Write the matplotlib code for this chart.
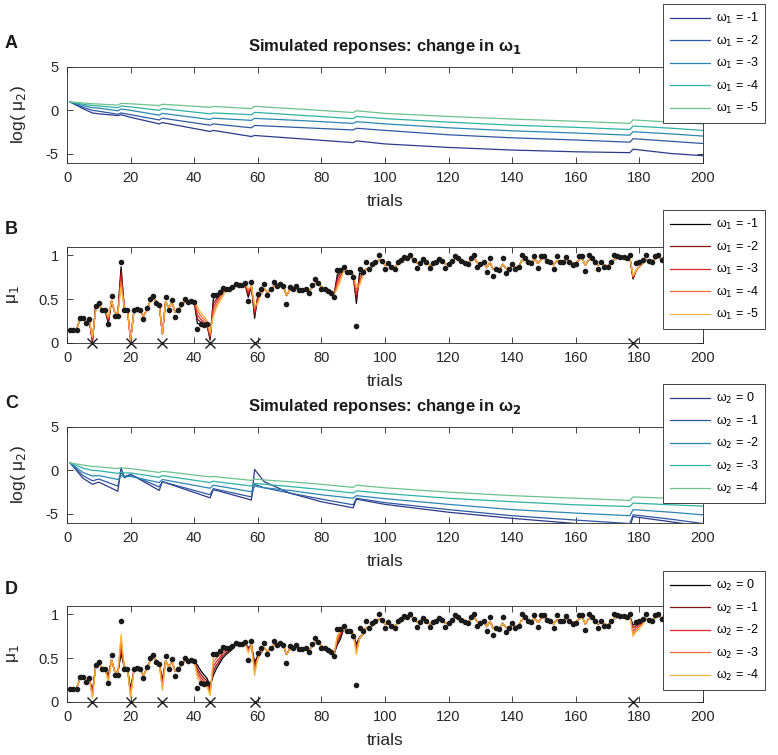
import numpy as np
import matplotlib.pyplot as plt
from matplotlib.ticker import FormatStrFormatter

plt.rcParams['font.family'] = ['Liberation Sans', 'DejaVu Sans']
plt.rcParams['mathtext.fontset'] = 'dejavusans'

# -----------------------------
# Data
# -----------------------------
trials = np.arange(1, 201)
nan = np.nan

# observed responses (black dots), nan = missed trial (x marker)
responses = [
    0.15, 0.15, 0.15, 0.28, 0.28, 0.23, 0.27, nan, 0.42, 0.45,
    0.37, 0.37, 0.21, 0.54, 0.31, 0.31, 0.93, 0.37, 0.37, nan,
    0.37, 0.39, 0.37, 0.27, 0.40, 0.50, 0.53, 0.46, 0.43, nan,
    0.52, 0.37, 0.49, 0.29, 0.38, 0.44, 0.50, 0.47, 0.48, 0.47,
    0.16, 0.21, 0.20, 0.21, nan, 0.55, 0.55, 0.58, 0.63, 0.61,
    0.61, 0.64, 0.67, 0.66, 0.66, 0.68, 0.48, 0.70, nan, 0.56,
    0.61, 0.67, 0.55, 0.62, 0.70, 0.65, 0.67, 0.65, 0.44, 0.64,
    0.61, 0.65, 0.60, 0.60, 0.62, 0.57, 0.66, 0.73, 0.68, 0.61,
    0.61, 0.59, 0.57, 0.52, 0.83, 0.83, 0.87, 0.81, 0.81, 0.75,
    0.19, 0.85, 0.81, 0.92, 0.84, 0.90, 0.93, 1.00, 0.94, 0.85,
    0.91, 0.87, 0.85, 0.93, 0.95, 0.98, 0.97, 1.00, 0.95, 0.86,
    0.91, 0.96, 0.92, 0.86, 0.91, 0.92, 0.96, 0.94, 0.86, 0.90,
    0.94, 0.99, 0.97, 0.94, 0.91, 0.90, 0.97, 1.00, 0.87, 0.90,
    0.92, 0.81, 0.97, 0.76, 0.84, 0.83, 0.97, 0.80, 0.84, 0.90,
    0.84, 0.87, 1.00, 0.97, 0.93, 0.91, 0.99, 0.86, 0.99, 0.99,
    0.94, 0.92, 0.85, 0.99, 0.93, 0.92, 0.98, 0.93, 0.89, 0.90,
    0.99, 0.99, 0.82, 1.00, 0.97, 0.92, 0.84, 0.92, 0.87, 0.87,
    0.92, 1.00, 0.99, 0.98, 0.98, 0.97, 1.00, nan, 0.91, 0.92,
    0.95, 1.00, 0.94, 0.93, 0.99, 1.00, 0.95, 0.98, 0.93, 0.99,
    0.96, 0.92, 1.00, 0.97, 0.94, 0.99, 0.96, 0.93, 0.98, 0.95,
]
missed = [8, 20, 30, 45, 59, 178]

# common mu1 trajectory (middle line), per trial
mu1_base = [
    0.15, 0.15, 0.15, 0.26, 0.27, 0.25, 0.26, 0.03, 0.40, 0.44,
    0.38, 0.37, 0.26, 0.48, 0.35, 0.33, 0.75, 0.40, 0.38, 0.03,
    0.35, 0.38, 0.37, 0.30, 0.37, 0.46, 0.51, 0.48, 0.44, 0.10,
    0.47, 0.40, 0.46, 0.35, 0.37, 0.42, 0.47, 0.47, 0.47, 0.47,
    0.33, 0.27, 0.24, 0.22, 0.07, 0.40, 0.47, 0.53, 0.58, 0.60,
    0.61, 0.63, 0.65, 0.66, 0.66, 0.67, 0.57, 0.65, 0.35, 0.50,
    0.56, 0.62, 0.58, 0.60, 0.65, 0.65, 0.66, 0.65, 0.54, 0.60,
    0.61, 0.63, 0.61, 0.61, 0.62, 0.59, 0.63, 0.68, 0.68, 0.64,
    0.62, 0.61, 0.59, 0.55, 0.70, 0.77, 0.83, 0.82, 0.81, 0.78,
    0.55, 0.72, 0.77, 0.85, 0.84, 0.87, 0.90, 0.95, 0.94, 0.89,
    0.90, 0.88, 0.87, 0.90, 0.92, 0.95, 0.96, 0.98, 0.96, 0.91,
    0.91, 0.94, 0.93, 0.89, 0.90, 0.91, 0.94, 0.94, 0.90, 0.90,
    0.92, 0.96, 0.96, 0.95, 0.93, 0.91, 0.94, 0.97, 0.92, 0.91,
    0.92, 0.86, 0.92, 0.84, 0.84, 0.83, 0.90, 0.85, 0.85, 0.88,
    0.86, 0.87, 0.94, 0.95, 0.94, 0.92, 0.96, 0.91, 0.95, 0.97,
    0.95, 0.93, 0.89, 0.94, 0.93, 0.93, 0.95, 0.94, 0.91, 0.91,
    0.95, 0.97, 0.89, 0.95, 0.96, 0.94, 0.89, 0.91, 0.89, 0.88,
    0.90, 0.95, 0.97, 0.97, 0.97, 0.97, 0.98, 0.75, 0.83, 0.87,
    0.91, 0.95, 0.94, 0.94, 0.96, 0.98, 0.96, 0.97, 0.95, 0.97,
    0.96, 0.94, 0.97, 0.97, 0.95, 0.97, 0.96, 0.94, 0.96, 0.95,
]

omega1_vals = [-1, -2, -3, -4, -5]
omega2_vals = [0, -1, -2, -3, -4]

# panel A: log(mu2), change in omega1 (keypoints)
a_trials = [1, 5, 8, 10, 16, 17, 20, 29, 30, 45, 46, 58, 59, 75, 90, 91,
            100, 120, 140, 160, 177, 178, 190, 200]
a_w1 = [0.95, 0.2, -0.3, -0.4, -0.6, -0.5, -0.8, -1.55, -1.4, -2.42, -2.3, -3.0,
        -2.88, -3.3, -3.7, -3.5, -3.85, -4.25, -4.55, -4.75, -4.85, -4.45, -4.95, -5.2]
a_w2 = [0.95, 0.35, 0.0, -0.1, -0.45, -0.3, -0.5, -1.1, -0.9, -1.7, -1.55, -2.0,
        -1.73, -2.0, -2.25, -2.05, -2.3, -2.8, -3.15, -3.4, -3.65, -3.25, -3.55, -3.8]
a_w3 = [0.95, 0.55, 0.3, 0.25, -0.05, 0.15, 0.0, -0.55, -0.35, -1.05, -0.9, -1.15,
        -0.92, -1.2, -1.5, -1.3, -1.55, -2.0, -2.35, -2.6, -2.85, -2.45, -2.7, -2.95]
a_w4 = [0.95, 0.7, 0.55, 0.5, 0.3, 0.5, 0.4, 0.0, 0.2, -0.4, -0.3, -0.5,
        -0.23, -0.6, -0.95, -0.7, -0.95, -1.35, -1.7, -1.95, -2.2, -1.8, -2.05, -2.3]
a_w5 = [0.95, 0.85, 0.75, 0.72, 0.6, 0.8, 0.75, 0.55, 0.7, 0.35, 0.45, 0.2,
        0.46, 0.1, -0.25, -0.05, -0.35, -0.7, -1.0, -1.25, -1.5, -1.1, -1.35, -1.55]

# panel C: log(mu2), change in omega2 (keypoints)
c_trials = [1, 5, 8, 10, 16, 17, 18, 20, 29, 30, 45, 46, 58, 59, 62, 70, 80, 90,
            91, 100, 120, 140, 160, 177, 178, 190, 200]
c_w0 = [0.85, -0.9, -1.6, -1.35, -2.4, 0.3, -0.85, -0.45, -2.3, -1.3, -3.15, -2.2,
        -3.4, 0.1, -1.3, -2.6, -3.6, -4.3, -3.3, -3.9, -4.8, -5.5, -6.1, -6.5, -5.3, -5.9, -6.4]
c_w1 = [0.85, -0.6, -1.2, -1.0, -1.8, -0.2, -0.7, -0.5, -1.9, -1.3, -2.8, -2.1,
        -3.05, -1.6, -2.0, -2.6, -3.3, -3.95, -3.2, -3.7, -4.5, -5.2, -5.7, -6.1, -5.1, -5.6, -6.1]
c_w2 = [0.85, -0.25, -0.65, -0.6, -1.05, -0.6, -0.75, -0.7, -1.4, -1.05, -2.05, -1.7,
        -2.45, -1.8, -2.0, -2.3, -2.8, -3.2, -2.9, -3.25, -3.9, -4.5, -4.9, -5.2, -4.5, -4.8, -5.1]
c_w3 = [0.85, 0.25, 0.0, -0.05, -0.35, -0.2, -0.3, -0.3, -0.8, -0.6, -1.4, -1.25,
        -1.8, -1.5, -1.6, -1.85, -2.2, -2.6, -2.35, -2.65, -3.2, -3.6, -3.95, -4.15, -3.75, -3.95, -4.1]
c_w4 = [0.85, 0.6, 0.45, 0.4, 0.2, 0.3, 0.25, 0.2, -0.25, -0.1, -0.75, -0.7,
        -1.15, -1.0, -1.1, -1.3, -1.6, -1.95, -1.7, -2.0, -2.5, -2.9, -3.2, -3.45, -3.05, -3.2, -3.35]

# panel B: trials where the five mu1 lines part from the common trajectory
b_trials = [8, 9, 13, 17, 41, 42, 43, 44, 45, 46, 47, 48, 49, 57, 59, 60, 85, 86, 91, 92, 178]
b_w1 = [0.01, 0.42, 0.22, 0.87, 0.22, 0.21, 0.20, 0.21, 0.03, 0.50, 0.54, 0.57, 0.62,
        0.52, 0.28, 0.54, 0.78, 0.82, 0.45, 0.80, 0.73]
b_w2 = [0.02, 0.41, 0.24, 0.82, 0.27, 0.24, 0.22, 0.21, 0.05, 0.45, 0.50, 0.55, 0.60,
        0.55, 0.31, 0.52, 0.74, 0.80, 0.50, 0.76, 0.74]
b_w3 = [0.03, 0.40, 0.26, 0.76, 0.32, 0.27, 0.24, 0.22, 0.07, 0.40, 0.47, 0.53, 0.58,
        0.57, 0.35, 0.50, 0.70, 0.77, 0.55, 0.72, 0.75]
b_w4 = [0.05, 0.38, 0.28, 0.70, 0.37, 0.31, 0.27, 0.24, 0.09, 0.35, 0.43, 0.50, 0.56,
        0.60, 0.39, 0.47, 0.66, 0.74, 0.60, 0.68, 0.76]
b_w5 = [0.07, 0.36, 0.30, 0.64, 0.41, 0.35, 0.30, 0.26, 0.12, 0.30, 0.40, 0.47, 0.53,
        0.62, 0.43, 0.45, 0.62, 0.71, 0.65, 0.65, 0.77]

# panel D: same idea for the omega2 variants
d_trials = [8, 13, 17, 20, 30, 41, 42, 43, 44, 45, 46, 47, 48, 49, 50, 51, 52, 57, 59,
            60, 61, 85, 86, 91, 92, 178, 179, 180, 181]
d_w0 = [0.12, 0.30, 0.55, 0.15, 0.25, 0.42, 0.36, 0.31, 0.27, 0.18, 0.30, 0.38, 0.44,
        0.50, 0.54, 0.57, 0.60, 0.62, 0.45, 0.53, 0.57, 0.65, 0.72, 0.66, 0.74, 0.88,
        0.89, 0.90, 0.91]
d_w1 = [0.10, 0.28, 0.60, 0.12, 0.22, 0.38, 0.32, 0.27, 0.24, 0.15, 0.35, 0.42, 0.47,
        0.53, 0.56, 0.58, 0.61, 0.61, 0.41, 0.51, 0.56, 0.68, 0.75, 0.63, 0.73, 0.85,
        0.87, 0.89, 0.91]
d_w2 = [0.08, 0.26, 0.65, 0.09, 0.19, 0.35, 0.28, 0.24, 0.21, 0.12, 0.40, 0.46, 0.50,
        0.56, 0.58, 0.60, 0.62, 0.60, 0.38, 0.50, 0.56, 0.70, 0.78, 0.60, 0.72, 0.81,
        0.85, 0.88, 0.90]
d_w3 = [0.06, 0.24, 0.71, 0.06, 0.16, 0.31, 0.25, 0.21, 0.19, 0.09, 0.45, 0.50, 0.53,
        0.58, 0.60, 0.61, 0.63, 0.58, 0.34, 0.50, 0.57, 0.73, 0.80, 0.57, 0.72, 0.78,
        0.82, 0.86, 0.89]
d_w4 = [0.04, 0.22, 0.77, 0.04, 0.13, 0.27, 0.22, 0.19, 0.18, 0.07, 0.50, 0.53, 0.56,
        0.61, 0.61, 0.62, 0.64, 0.56, 0.30, 0.50, 0.58, 0.76, 0.81, 0.54, 0.73, 0.75,
        0.80, 0.84, 0.88]

blue_cols = ['#2b3a8a', '#2f58a3', '#2a87b3', '#2eb2a3', '#6cc28e']
hot_cols = ['#000000', '#8a1414', '#e3262b', '#ef6a3a', '#f4b63a']

AX_COL = '#262626'


def build(base, tr, vals):
    y = np.array(base, dtype=float)
    for t, v in zip(tr, vals):
        y[t - 1] = v
    return y


def style(ax, ylim, yticks):
    ax.set_xlim(0, 200)
    ax.set_ylim(*ylim)
    ax.set_xticks(range(0, 201, 20))
    ax.set_yticks(yticks)
    ax.yaxis.set_major_formatter(FormatStrFormatter('%g'))
    ax.tick_params(direction='in', top=True, right=True, length=4, width=0.6,
                   colors=AX_COL, labelsize=10.5, pad=6)
    for s in ax.spines.values():
        s.set_color(AX_COL)
        s.set_linewidth(0.6)
    ax.set_xlabel('trials', fontsize=12.5, color=AX_COL)
    ax.xaxis.set_label_coords(0.5, -0.33)


def add_legend(ax, handles, labels, top_px):
    leg = ax.legend(handles, labels, loc='upper left',
                    bbox_to_anchor=(663 / 778, 1 - top_px / 755),
                    bbox_transform=fig.transFigure, borderaxespad=0,
                    fontsize=9, handlelength=3.2, handletextpad=0.45,
                    labelspacing=0.59, borderpad=0.56, fancybox=False,
                    framealpha=1, edgecolor=AX_COL)
    leg.get_frame().set_linewidth(0.6)


fig = plt.figure(figsize=(7.78, 7.55), dpi=100)
L, W, H = 67 / 778, 636 / 778, 96 / 755

# -----------------------------
# A: log(mu2) for omega1 values
# -----------------------------
axA = fig.add_axes([L, 1 - 162.7 / 755, W, H])
hA = []
for vals, c in zip([a_w1, a_w2, a_w3, a_w4, a_w5], blue_cols):
    hA += axA.plot(a_trials, vals, color=c, lw=0.9)
style(axA, (-6, 5), [-5, 0, 5])
axA.set_ylabel('log( μ$_2$)', fontsize=12.5, color=AX_COL)
axA.yaxis.set_label_coords(-0.061, 0.5)
axA.text(0.5, 1.165, 'Simulated reponses: change in ω$_\\mathbf{1}$',
         transform=axA.transAxes, ha='center', va='baseline',
         fontsize=12, fontweight='bold', color='#1a1a1a')
add_legend(axA, hA, ['ω$_1$ = %d' % w for w in omega1_vals], 4)

# -----------------------------
# B: mu1 for omega1 values
# -----------------------------
axB = fig.add_axes([L, 1 - 342.7 / 755, W, H])
hB = []
for vals, c in zip([b_w1, b_w2, b_w3, b_w4, b_w5], hot_cols):
    hB += axB.plot(trials, build(mu1_base, b_trials, vals), color=c, lw=0.9)
axB.plot(trials, responses, 'o', color='#1a1a1a', ms=3)
axB.plot(missed, [0] * len(missed), 'x', color='#1a1a1a', ms=7, mew=1, clip_on=False)
style(axB, (0, 1.1), [0, 0.5, 1])
axB.set_ylabel('μ$_1$', fontsize=12.5, color=AX_COL)
axB.yaxis.set_label_coords(-0.072, 0.5)
add_legend(axB, hB, ['ω$_1$ = %d' % w for w in omega1_vals], 210)

# -----------------------------
# C: log(mu2) for omega2 values
# -----------------------------
axC = fig.add_axes([L, 1 - 522.7 / 755, W, H])
hC = []
for vals, c in zip([c_w0, c_w1, c_w2, c_w3, c_w4], blue_cols):
    hC += axC.plot(c_trials, vals, color=c, lw=0.9)
style(axC, (-6, 5), [-5, 0, 5])
axC.set_ylabel('log( μ$_2$)', fontsize=12.5, color=AX_COL)
axC.yaxis.set_label_coords(-0.061, 0.5)
axC.text(0.5, 1.165, 'Simulated reponses: change in ω$_\\mathbf{2}$',
         transform=axC.transAxes, ha='center', va='baseline',
         fontsize=12, fontweight='bold', color='#1a1a1a')
add_legend(axC, hC, ['ω$_2$ = %d' % w for w in omega2_vals], 384)

# -----------------------------
# D: mu1 for omega2 values
# -----------------------------
axD = fig.add_axes([L, 1 - 701.7 / 755, W, H])
hD = []
for vals, c in zip([d_w0, d_w1, d_w2, d_w3, d_w4], hot_cols):
    hD += axD.plot(trials, build(mu1_base, d_trials, vals), color=c, lw=0.9)
axD.plot(trials, responses, 'o', color='#1a1a1a', ms=3)
axD.plot(missed, [0] * len(missed), 'x', color='#1a1a1a', ms=7, mew=1, clip_on=False)
style(axD, (0, 1.1), [0, 0.5, 1])
axD.set_ylabel('μ$_1$', fontsize=12.5, color=AX_COL)
axD.yaxis.set_label_coords(-0.072, 0.5)
add_legend(axD, hD, ['ω$_2$ = %d' % w for w in omega2_vals], 571)

# panel letters
for letter, ypx in [('A', 43), ('B', 230), ('C', 403), ('D', 590)]:
    fig.text(5 / 778, 1 - ypx / 755, letter, fontsize=13, fontweight='bold',
             va='center', ha='left', color='#1a1a1a')

fig.savefig('out.png', dpi=100)
